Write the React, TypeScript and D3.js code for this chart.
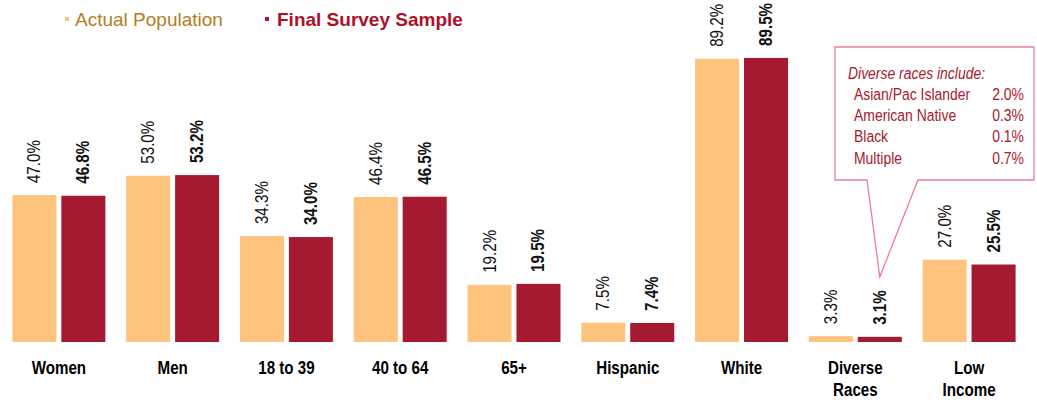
import React from 'react';
import * as d3 from 'd3';

const categories = ['Women', 'Men', '18 to 39', '40 to 64', '65+', 'Hispanic', 'White', 'Diverse Races', 'Low Income'];
const actualPopulation = [47.0, 53.0, 34.3, 46.4, 19.2, 7.5, 89.2, 3.3, 27.0];
const finalSurvey = [46.8, 53.2, 34.0, 46.5, 19.5, 7.4, 89.5, 3.1, 25.5];
const seriesNames = ['Actual Population', 'Final Survey Sample'];
const diverseNames = ['Asian/Pac Islander', 'American Native', 'Black', 'Multiple'];
const diverseValues = [2.0, 0.3, 0.1, 0.7];

const ORANGE = '#FEC47E';
const RED = '#A51931';
const FONT = '"Liberation Sans", Arial, sans-serif';
const NARROW = 0.82; // no Arial Narrow here, so squeeze Liberation Sans

const width = 1037;
const height = 400;

// horizontally condensed text placed at (x, y)
function NText({ x, y, rotate = 0, children, ...rest }: any) {
  return (
    <text transform={`translate(${x},${y}) rotate(${rotate}) scale(${NARROW},1)`} fontFamily={FONT} {...rest}>
      {children}
    </text>
  );
}

export default function App() {
  const x0 = d3.scaleBand().domain(categories).range([2, 1026]).paddingInner(0.183).paddingOuter(0.0915);
  const x1 = d3.scaleBand().domain(['a', 's']).range([0, x0.bandwidth()]).paddingInner(0.1);
  const y = d3.scaleLinear().domain([1.5, 100]).range([342, 24]);

  const fmt = (v: number) => v.toFixed(1) + '%';

  // callout tip points at the Diverse Races survey bar
  const dIdx = categories.indexOf('Diverse Races');
  const tipX = x0(categories[dIdx])! + x1('s')! + x1.bandwidth() / 2;
  const tipY = y(finalSurvey[dIdx]) - 60;
  const box = { x: 835, y: 47, w: 199, h: 133 };

  return (
    <svg width={width} height={height} style={{ position: 'absolute', left: 0, top: 0 }}>
      {/* legend */}
      <g fontFamily={FONT} fontSize={19}>
        <rect x={65} y={17} width={4} height={4} fill={ORANGE} />
        <text x={75} y={26} fill="#B57D24">{seriesNames[0]}</text>
        <rect x={265} y={17} width={4} height={4} fill={RED} />
        <text x={277} y={26} fill="#AF1028" fontWeight="bold">{seriesNames[1]}</text>
      </g>

      {categories.map((c, i) => {
        const gx = x0(c)!;
        const bars = [
          { key: 'a', v: actualPopulation[i], fill: ORANGE, bold: false },
          { key: 's', v: finalSurvey[i], fill: RED, bold: true },
        ];
        const lines = c === 'Diverse Races' ? ['Diverse', 'Races'] : c === 'Low Income' ? ['Low', 'Income'] : [c];
        const cx0 = gx + x0.bandwidth() / 2;
        return (
          <g key={c}>
            {bars.map((b) => {
              const bx = gx + x1(b.key)!;
              const cx = bx + x1.bandwidth() / 2;
              return (
                <g key={b.key}>
                  <rect x={bx} y={y(b.v)} width={x1.bandwidth()} height={y(1.5) - y(b.v)} fill={b.fill} />
                  <NText
                    x={cx}
                    y={y(b.v) - 12}
                    rotate={-90}
                    dominantBaseline="central"
                    fontSize={18.5}
                    fontWeight={b.bold ? 'bold' : 'normal'}
                    fill="#111"
                  >
                    {fmt(b.v)}
                  </NText>
                </g>
              );
            })}
            {lines.map((l, k) => (
              <NText key={l} x={cx0} y={374 + k * 21.5} textAnchor="middle" fontSize={18.5} fontWeight="bold" fill="#000">
                {l}
              </NText>
            ))}
          </g>
        );
      })}

      {/* callout */}
      <path
        d={`M${box.x},${box.y} H${box.x + box.w} V${box.y + box.h} H918 L${tipX},${tipY} L867,${box.y + box.h} H${box.x} Z`}
        fill="#fff"
        stroke="#E8808F"
        strokeWidth={1.3}
      />
      <g fill="#A6192E">
        <NText x={848} y={79} fontSize={17} fontStyle="italic">Diverse races include:</NText>
        {diverseNames.map((n, i) => (
          <g key={n}>
            <NText x={854} y={100 + i * 21.2} fontSize={17}>{n}</NText>
            <NText x={1024} y={100 + i * 21.2} fontSize={17} textAnchor="end">{fmt(diverseValues[i])}</NText>
          </g>
        ))}
      </g>
    </svg>
  );
}
